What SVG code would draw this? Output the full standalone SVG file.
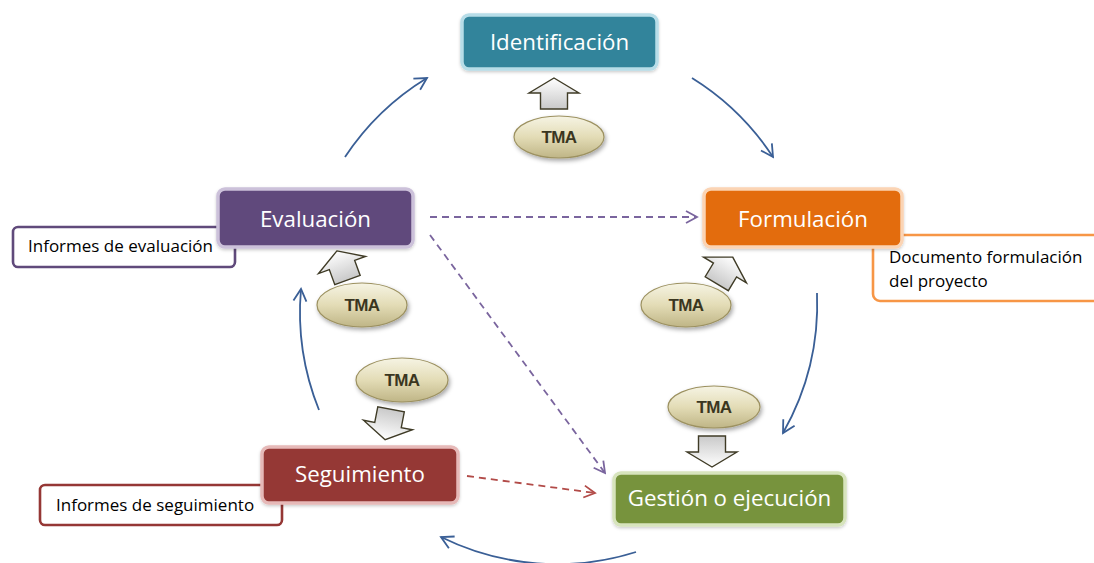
<svg xmlns="http://www.w3.org/2000/svg" width="1094" height="563" viewBox="0 0 1094 563">
<defs>
<style>
.title{font-family:"Open Sans","Noto Sans",sans-serif;font-size:22.3px;fill:#ffffff;text-anchor:middle}
.note{font-family:"Open Sans","Noto Sans",sans-serif;font-size:17px;fill:#000000}
.tma{font-family:"Liberation Sans",Arial,sans-serif;font-weight:bold;font-size:17px;fill:#3A361F;text-anchor:middle;letter-spacing:-0.6px}
.ell{fill:url(#gTan);stroke:#9C9160;stroke-width:1.2;filter:url(#sh)}
.barr{fill:url(#gArr);stroke:#3F3B26;stroke-width:1.4;stroke-linejoin:miter}
.arc{fill:none;stroke:#3A5F96;stroke-width:1.8;marker-end:url(#mBlue)}
.dp{fill:none;stroke:#7A659E;stroke-width:1.8;stroke-dasharray:7 5;marker-end:url(#mPurple)}
.dr{fill:none;stroke:#B24B48;stroke-width:1.8;stroke-dasharray:7 5;marker-end:url(#mRed)}
.noteBox{fill:#ffffff;stroke-width:2.6}
.box{stroke-width:3.5;filter:url(#bsh)}
</style>
<linearGradient id="gTan" x1="0" y1="0" x2="0" y2="1">
<stop offset="0" stop-color="#F6F4E4"/>
<stop offset="0.5" stop-color="#E3DCB6"/>
<stop offset="1" stop-color="#BFB586"/>
</linearGradient>
<linearGradient id="gArr" x1="0" y1="0" x2="0" y2="1">
<stop offset="0" stop-color="#FFFFFF"/>
<stop offset="1" stop-color="#C9C9C9"/>
</linearGradient>
<filter id="sh" x="-30%" y="-30%" width="160%" height="170%">
<feDropShadow dx="1.5" dy="2.5" stdDeviation="2" flood-color="#000" flood-opacity="0.35"/>
</filter>
<filter id="bsh" x="-10%" y="-20%" width="120%" height="150%">
<feDropShadow dx="0" dy="1.5" stdDeviation="1.5" flood-color="#000" flood-opacity="0.2"/>
</filter>
<marker id="mBlue" markerUnits="userSpaceOnUse" markerWidth="16" markerHeight="16" viewBox="-14 -8 16 16" refX="0" refY="0" orient="auto">
<path d="M-12,-6.5 L0,0 L-12,6.5" fill="none" stroke="#3A5F96" stroke-width="1.8"/>
</marker>
<marker id="mPurple" markerUnits="userSpaceOnUse" markerWidth="16" markerHeight="16" viewBox="-14 -8 16 16" refX="0" refY="0" orient="auto">
<path d="M-11,-6 L0,0 L-11,6" fill="none" stroke="#7A659E" stroke-width="1.8"/>
</marker>
<marker id="mRed" markerUnits="userSpaceOnUse" markerWidth="16" markerHeight="16" viewBox="-14 -8 16 16" refX="0" refY="0" orient="auto">
<path d="M-11,-6 L0,0 L-11,6" fill="none" stroke="#B24B48" stroke-width="1.8"/>
</marker>
<path id="upArrow" d="M0,-15 L25,0 L13.5,0 L13.5,16 L-13.5,16 L-13.5,0 L-25,0 Z"/>
</defs>
<rect width="1094" height="563" fill="#ffffff"/>

<g id="connectors">
<path class="arc" d="M345,157 A262,262 0 0 1 427,78"/>
<path class="arc" d="M692,78 A262,262 0 0 1 773,157"/>
<path class="arc" d="M817,293 A262,262 0 0 1 783,433"/>
<path class="arc" d="M636,552 A262,262 0 0 1 441,537"/>
<path class="arc" d="M319,410 A262,262 0 0 1 301,289"/>
<path class="dp" d="M430,217 L697,217"/>
<path class="dp" d="M430,235 L605,473"/>
<path class="dr" d="M467,476 L595,493"/>
</g>

<g id="note-evaluacion">
<rect class="noteBox" x="13" y="227" width="222" height="40" rx="5" stroke="#604A7B"/>
<text class="note" x="28" y="252">Informes de evaluación</text>
</g>
<g id="note-formulacion">
<rect class="noteBox" x="873" y="235" width="240" height="66" rx="7" stroke="#F79646"/>
<text class="note" x="889" y="263">Documento formulación</text>
<text class="note" x="889" y="287">del proyecto</text>
</g>
<g id="note-seguimiento">
<rect class="noteBox" x="40" y="485" width="242" height="40" rx="5" stroke="#953735"/>
<text class="note" x="56" y="511">Informes de seguimiento</text>
</g>

<g id="identificacion">
<rect class="box" x="462" y="15" width="195" height="54" rx="7" fill="#31849B" stroke="#B7DDE8"/>
<text class="title" x="559.5" y="50">Identificación</text>
</g>
<g id="evaluacion">
<rect class="box" x="218" y="189" width="195" height="58" rx="7" fill="#604A7B" stroke="#CCC1DA"/>
<text class="title" x="315.5" y="226.5">Evaluación</text>
</g>
<g id="formulacion">
<rect class="box" x="704" y="189" width="198" height="58" rx="7" fill="#E36C09" stroke="#FBD4B4"/>
<text class="title" x="803" y="226.5">Formulación</text>
</g>
<g id="seguimiento">
<rect class="box" x="262" y="447" width="196" height="56" rx="7" fill="#953735" stroke="#E6B9B8"/>
<text class="title" x="360" y="482">Seguimiento</text>
</g>
<g id="gestion">
<rect class="box" x="614" y="473" width="231" height="52" rx="7" fill="#77933C" stroke="#D7E4BD"/>
<text class="title" x="729.5" y="506">Gestión o ejecución</text>
</g>

<g id="tma-identificacion">
<use href="#upArrow" class="barr" transform="translate(554,93)"/>
<ellipse class="ell" cx="559" cy="137" rx="45" ry="21"/>
<text class="tma" x="559" y="143">TMA</text>
</g>
<g id="tma-evaluacion">
<use href="#upArrow" class="barr" transform="translate(342,265) rotate(-20)"/>
<ellipse class="ell" cx="362" cy="305" rx="45" ry="22"/>
<text class="tma" x="362" y="311">TMA</text>
</g>
<g id="tma-formulacion">
<use href="#upArrow" class="barr" transform="translate(725,270) rotate(31)"/>
<ellipse class="ell" cx="686" cy="305" rx="45" ry="22"/>
<text class="tma" x="686" y="311">TMA</text>
</g>
<g id="tma-seguimiento">
<ellipse class="ell" cx="402" cy="380" rx="46" ry="22"/>
<text class="tma" x="402" y="386">TMA</text>
<use href="#upArrow" class="barr" transform="translate(388,425) rotate(191)"/>
</g>
<g id="tma-gestion">
<ellipse class="ell" cx="714" cy="407" rx="46" ry="21"/>
<text class="tma" x="714" y="413">TMA</text>
<use href="#upArrow" class="barr" transform="translate(712,452) rotate(180)"/>
</g>
</svg>
